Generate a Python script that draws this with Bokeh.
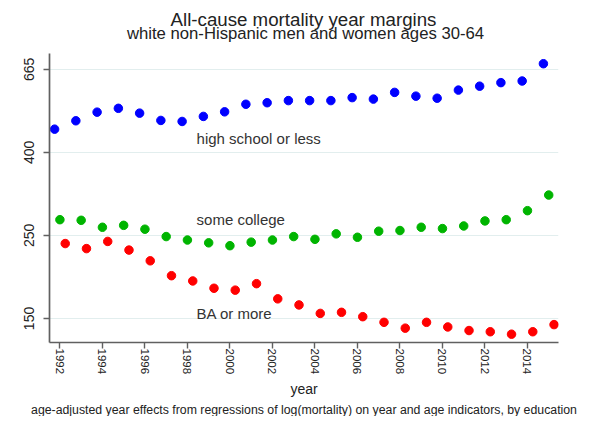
import numpy as np
from bokeh.plotting import figure
from bokeh.layouts import column
from bokeh.models import Range1d, FixedTicker, ColumnDataSource, Title
from bokeh.transform import dodge
from bokeh.core.properties import value
from bokeh.embed import file_html
from bokeh.resources import INLINE

# ---- data (age-adjusted mortality) ----
years = list(range(1992, 2016))
hs_or_less = [464, 488, 514, 526, 511, 489, 486, 501, 515, 539, 544, 551,
              551, 551, 561, 556, 579, 566, 559, 587, 601, 614, 620, 688]
some_college = [269, 268, 257, 260, 254, 243, 238, 234, 230, 235, 238, 243,
                239, 247, 242, 251, 252, 257, 255, 259, 267, 269, 284, 312]
ba_or_more = [233, 226, 236, 224, 210, 192, 186, 178, 176, 183, 167, 161,
              153, 154, 150, 145, 140, 145, 141, 138, 137, 135, 137, 143]

series_names = ["high school or less", "some college", "BA or more"]
series_colors = ["#0000ff", "#00b400", "#ff0000"]

x_tick_years = list(range(1992, 2015, 2))
y_tick_logs = [5.0, 5.5, 6.0, 6.5]
y_tick_labels = ["150", "250", "400", "665"]

title_text = "All-cause mortality year margins"
subtitle_text = "white non-Hispanic men and women ages 30-64"
xlabel_text = "year"
note_text = ("age-adjusted year effects from regressions of log(mortality) "
             "on year and age indicators, by education")

# in-plot label anchors (data coords)
label_x = [1998.43, 1998.43, 1998.43]
label_y = [439, 269, 153]

FONT = "Liberation Sans"
W = 580
TOP_H, MAIN_H = 53, 363
LB, RB = 49, 22
AXIS_COLOR = "#606060"

# ---- title panel (frame = canvas x 49..558, y 0..53 from bottom) ----
top = figure(width=W, height=TOP_H, output_backend="svg", toolbar_location=None,
             x_range=Range1d(LB, W - RB), y_range=Range1d(0, TOP_H),
             x_axis_location=None, y_axis_location=None,
             min_border_left=LB, min_border_right=RB, min_border_top=0, min_border_bottom=0)
top.outline_line_color = None
top.grid.visible = False
top.title = None
top.text(x=[303], y=[TOP_H - 18.5], text=[title_text], text_font=value(FONT),
         text_font_size="18.7px", text_color="#222222", text_align="center",
         text_baseline="alphabetic")
top.text(x=[305], y=[TOP_H - 33], text=[subtitle_text], text_font=value(FONT),
         text_font_size="16.7px", text_color="#222222", text_align="center",
         text_baseline="alphabetic")

# ---- main plot ----
src = ColumnDataSource(dict(year=years, hs=hs_or_less, sc=some_college, ba=ba_or_more))

p = figure(width=W, height=MAIN_H, output_backend="svg", toolbar_location=None,
           y_axis_type="log",
           x_range=Range1d(1991.51, 2015.46),
           y_range=Range1d(float(np.exp(4.8552)), float(np.exp(6.5954))),
           min_border_left=LB, min_border_right=RB, min_border_top=0, min_border_bottom=71)
p.outline_line_color = None
p.title = None

p.scatter(x=dodge("year", -0.25), y="hs", source=src, size=8.5,
          fill_color=series_colors[0], line_color=series_colors[0])
p.scatter(x="year", y="sc", source=src, size=8.5,
          fill_color=series_colors[1], line_color=series_colors[1])
p.scatter(x=dodge("year", 0.25), y="ba", source=src, size=8.5,
          fill_color=series_colors[2], line_color=series_colors[2])

p.text(x=label_x, y=label_y, text=series_names, text_font=value(FONT),
       text_font_size="15px", text_color="#333333", text_baseline="middle",
       text_align="left")

y_ticks = [float(np.exp(v)) for v in y_tick_logs]
p.yaxis.ticker = FixedTicker(ticks=y_ticks)
p.yaxis.major_label_overrides = {t: l for t, l in zip(y_ticks, y_tick_labels)}
p.yaxis.major_label_orientation = "vertical"
p.xaxis.ticker = FixedTicker(ticks=x_tick_years)
p.xaxis.major_label_orientation = "vertical"

for ax in (p.xaxis[0], p.yaxis[0]):
    ax.axis_line_color = AXIS_COLOR
    ax.axis_line_width = 1.7
    ax.major_tick_line_color = AXIS_COLOR
    ax.major_tick_line_width = 1.4
    ax.major_tick_out = 6
    ax.major_tick_in = 0
    ax.minor_tick_line_color = None
    ax.major_label_text_font = FONT
    ax.major_label_text_color = "#222222"

p.xaxis.major_label_text_font_size = "11.5px"
p.xaxis.major_label_standoff = 0
p.yaxis.major_label_text_font_size = "14px"
p.yaxis.major_label_standoff = 9

p.xaxis.axis_label = xlabel_text
p.xaxis.axis_label_text_font = FONT
p.xaxis.axis_label_text_font_style = "normal"
p.xaxis.axis_label_text_font_size = "14px"
p.xaxis.axis_label_text_color = "#222222"
p.xaxis.axis_label_standoff = 4

p.add_layout(Title(text=note_text, align="center", text_font=FONT,
                   text_font_size="12.3px", text_font_style="normal",
                   text_color="#222222", standoff=0), "below")

p.xgrid.grid_line_color = None
p.ygrid.grid_line_color = "#e2eeee"
p.ygrid.grid_line_width = 1.2

layout = column(top, p, spacing=0)
open("out.html", "w").write(file_html(layout, INLINE))
